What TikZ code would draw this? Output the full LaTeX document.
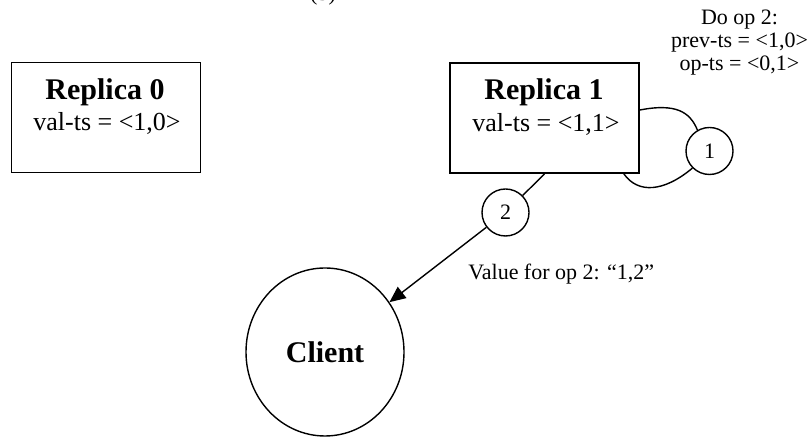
\documentclass[tikz,border=0pt]{standalone}
\usepackage{fontspec}
\setmainfont{Liberation Serif}
\usetikzlibrary{shapes.geometric,arrows.meta}

\tikzset{
  replica/.style={draw, line width=0.9pt, rectangle, minimum width=94.5pt, minimum height=55pt, inner sep=0pt},
  msgcircle/.style={draw, line width=0.7pt, circle, minimum size=23.5pt, inner sep=0pt, font=\fontsize{11}{13}\selectfont},
  clientnode/.style={draw, line width=0.7pt, ellipse, minimum width=79pt, minimum height=84pt, inner sep=0pt, font=\fontsize{15}{18}\selectfont\bfseries},
  titletext/.style={anchor=base, inner sep=0pt, font=\fontsize{15}{18}\selectfont\bfseries},
  tstext/.style={anchor=base, inner sep=0pt, font=\fontsize{13}{16}\selectfont},
  notetext/.style={inner sep=0pt, font=\fontsize{11}{12}\selectfont},
  link/.style={line width=0.7pt},
  tip/.style={-{Triangle[length=8pt,width=7pt]}}
}

\begin{document}
\begin{tikzpicture}[x=0.5pt, y=-0.5pt]
  \useasboundingbox (0,0) rectangle (809,437);
  \clip (0,0) rectangle (809,437);

  % step label at the top edge
  \node[notetext, anchor=base] (steplabel) at (323,1) {(3)};

  % replicas
  \node[replica] (r0) at (106,117.5) {};
  \node[titletext] (r0name) at (105,100) {Replica 0};
  \node[tstext] (r0ts) at (107,131) {val-ts = <1,0>};

  \node[replica] (r1) at (544.5,118) {};
  \node[titletext] (r1name) at (544,100) {Replica 1};
  \node[tstext] (r1ts) at (546,132) {val-ts = <1,1>};

  % message circles
  \node[msgcircle] (c1) at (709.5,151) {1};
  \node[msgcircle] (c2) at (505.5,212.5) {2};

  % client
  \node[clientnode] (cl) at (325,352) {Client};

  % self loop on replica 1 through message 1
  \draw[link] ([yshift=4pt]r1.east) .. controls (676,103) and (690,112) .. (c1.120);
  \draw[link] ([xshift=-8pt]r1.south east) .. controls (638,194) and (664,192) .. (c1.225);

  % reply path to the client through message 2
  \draw[link] (r1.south) -- (c2);
  \draw[link, tip] (c2) -- (cl);

  % annotations
  \node[notetext, align=center, anchor=north] (opnote) at (739.5,10)
    {Do op 2:\\[-0.5pt] prev-ts = <1,0>\\[-0.5pt] op-ts = <0,1>};
  \node[notetext, anchor=base west] (valnote) at (468,280) {Value for op 2: “1,2”};
\end{tikzpicture}
\end{document}
